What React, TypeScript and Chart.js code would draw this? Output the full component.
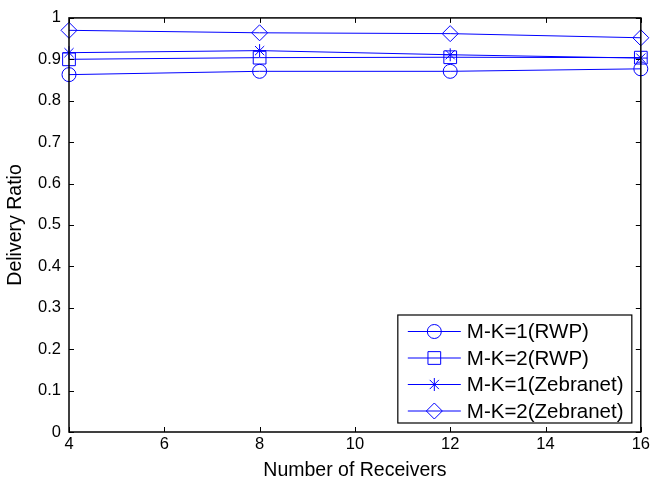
import React, { useEffect, useRef } from "react";
import { Chart, registerables } from "chart.js";
import { drawPoint } from "chart.js/helpers";

Chart.register(...registerables);

const receivers = [4, 8, 12, 16];
const rwpK1 = [0.863, 0.871, 0.871, 0.877];
const rwpK2 = [0.900, 0.904, 0.905, 0.904];
const zebK1 = [0.916, 0.921, 0.911, 0.903];
const zebK2 = [0.970, 0.964, 0.962, 0.952];

const seriesLabels = ["M-K=1(RWP)", "M-K=2(RWP)", "M-K=1(Zebranet)", "M-K=2(Zebranet)"];
const seriesValues = [rwpK1, rwpK2, zebK1, zebK2];
const seriesMarkers = ["circle", "rect", "star", "rectRot"];
const markerRadius = [7, 9, 6.5, 8];

const xTicks = [4, 6, 8, 10, 12, 14, 16];
const yTicks = [0, 0.1, 0.2, 0.3, 0.4, 0.5, 0.6, 0.7, 0.8, 0.9, 1];

const BLUE = "#0000ff";
const FONT = "'Liberation Sans', Arial, Helvetica, sans-serif";

const innerTicks = {
  id: "innerTicks",
  afterDraw(chart: any) {
    const { ctx, chartArea } = chart;
    const xs = chart.scales.x;
    const ys = chart.scales.y;
    const L = 5;
    ctx.save();
    ctx.strokeStyle = "#000";
    ctx.lineWidth = 1;
    ctx.beginPath();
    for (const v of xTicks) {
      const px = Math.round(xs.getPixelForValue(v)) + 0.5;
      ctx.moveTo(px, chartArea.bottom);
      ctx.lineTo(px, chartArea.bottom - L);
      ctx.moveTo(px, chartArea.top);
      ctx.lineTo(px, chartArea.top + L);
    }
    for (const v of yTicks) {
      const py = Math.round(ys.getPixelForValue(v)) + 0.5;
      ctx.moveTo(chartArea.left, py);
      ctx.lineTo(chartArea.left + L, py);
      ctx.moveTo(chartArea.right, py);
      ctx.lineTo(chartArea.right - L, py);
    }
    ctx.stroke();
    ctx.lineWidth = 1.5;
    ctx.strokeRect(chartArea.left, chartArea.top, chartArea.right - chartArea.left, chartArea.bottom - chartArea.top);
    ctx.restore();
  },
};

const boxLegend = {
  id: "boxLegend",
  afterDraw(chart: any) {
    const { ctx, chartArea } = chart;
    const right = chartArea.right - 9;
    const bottom = chartArea.bottom - 9;
    const w = 234;
    const rowH = 26.5;
    const h = 108;
    const left = right - w;
    const top = bottom - h;
    ctx.save();
    ctx.fillStyle = "#fff";
    ctx.fillRect(left, top, w, h);
    ctx.strokeStyle = "#000";
    ctx.lineWidth = 1.2;
    ctx.strokeRect(left, top, w, h);
    ctx.font = `20.5px ${FONT}`;
    ctx.textBaseline = "middle";
    ctx.textAlign = "left";
    chart.data.datasets.forEach((ds: any, i: number) => {
      const cy = top + 16.5 + i * rowH;
      ctx.strokeStyle = BLUE;
      ctx.lineWidth = 1;
      ctx.beginPath();
      ctx.moveTo(left + 10, cy);
      ctx.lineTo(left + 63, cy);
      ctx.stroke();
      ctx.fillStyle = "rgba(0,0,0,0)";
      ctx.strokeStyle = BLUE;
      drawPoint(ctx, { pointStyle: ds.pointStyle, radius: ds.pointRadius, rotation: 0, borderWidth: 1 }, left + 36.5, cy);
      ctx.fillStyle = "#000";
      ctx.fillText(ds.label, left + 69, cy + 1);
    });
    ctx.restore();
  },
};

export default function App() {
  const ref = useRef<HTMLCanvasElement | null>(null);
  useEffect(() => {
    if (!ref.current) return;
    const chart = new Chart(ref.current, {
      type: "line",
      data: {
        datasets: seriesLabels.map((label, i) => ({
          label,
          data: receivers.map((r, j) => ({ x: r, y: seriesValues[i][j] })),
          borderColor: BLUE,
          backgroundColor: "rgba(0,0,0,0)",
          borderWidth: 1,
          pointStyle: seriesMarkers[i] as any,
          pointRadius: markerRadius[i],
          pointBorderColor: BLUE,
          pointBackgroundColor: "rgba(0,0,0,0)",
          pointBorderWidth: 1,
          tension: 0,
          fill: false,
          clip: false as any,
        })),
      },
      options: {
        animation: false,
        responsive: false,
        devicePixelRatio: 1,
        layout: { padding: { left: 0, right: 12, top: 11, bottom: 0 } },
        plugins: { legend: { display: false }, tooltip: { enabled: false } },
        scales: {
          x: {
            type: "linear",
            min: 4,
            max: 16,
            afterBuildTicks: (s: any) => {
              s.ticks = xTicks.map((v) => ({ value: v }));
            },
            afterFit: (s: any) => {
              s.height = 52;
            },
            ticks: {
              color: "#000",
              font: { family: FONT, size: 16.5 },
              padding: 3,
              maxRotation: 0,
              callback: (v: any) => String(v),
            },
            grid: { display: false, drawTicks: false },
            border: { display: false },
            title: {
              display: true,
              text: "Number of Receivers",
              color: "#000",
              font: { family: FONT, size: 19.5 },
              padding: { top: 0, bottom: 2 },
            },
          },
          y: {
            type: "linear",
            min: 0,
            max: 1,
            afterBuildTicks: (s: any) => {
              s.ticks = yTicks.map((v) => ({ value: v }));
            },
            afterFit: (s: any) => {
              s.width = 69;
            },
            ticks: {
              color: "#000",
              font: { family: FONT, size: 16.5 },
              padding: 8,
              callback: (v: any) => String(Math.round(Number(v) * 10) / 10),
            },
            grid: { display: false, drawTicks: false },
            border: { display: false },
            title: {
              display: true,
              text: "Delivery Ratio",
              color: "#000",
              font: { family: FONT, size: 19.5 },
              padding: { top: 4, bottom: 0 },
            },
          },
        },
      },
      plugins: [innerTicks, boxLegend],
    });
    return () => chart.destroy();
  }, []);
  return (
    <div style={{ position: "absolute", left: 0, top: 0, width: 653, height: 484, background: "#fff" }}>
      <canvas ref={ref} width={653} height={484} style={{ width: 653, height: 484 }} />
    </div>
  );
}
